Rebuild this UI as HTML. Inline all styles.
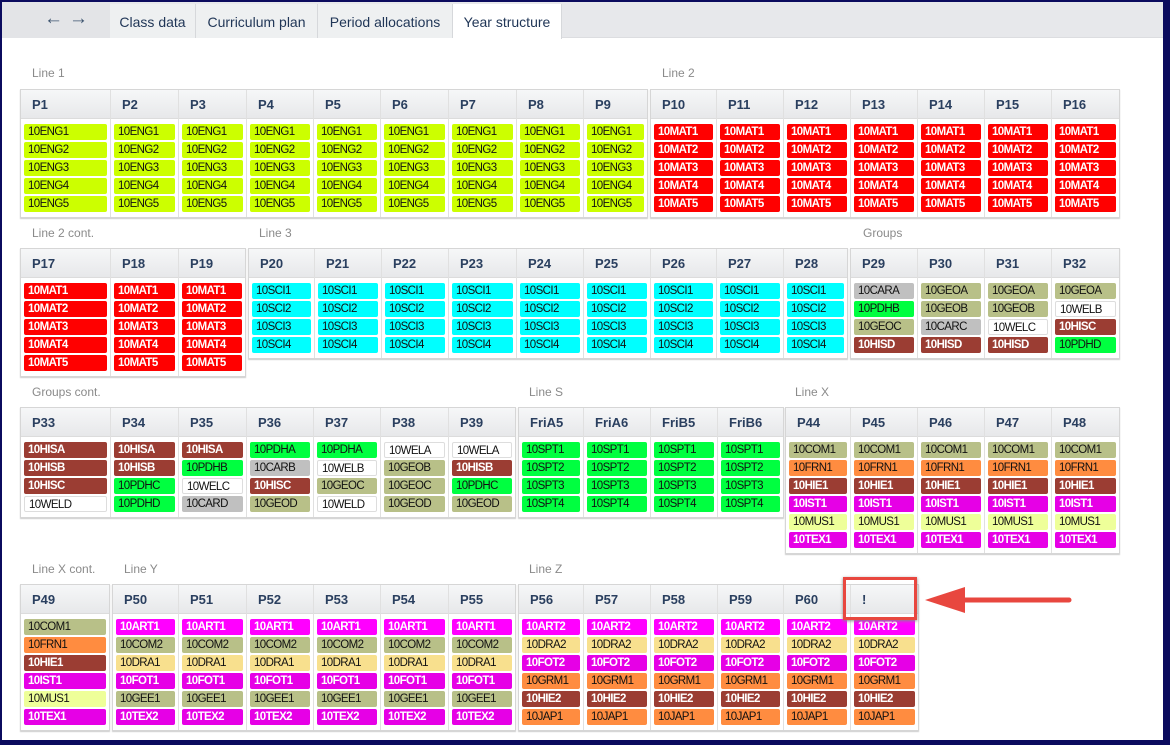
<!DOCTYPE html>
<html><head><meta charset="utf-8"><style>
*{box-sizing:border-box;margin:0;padding:0}
body{width:1170px;height:745px;background:#0b0b5e;position:relative;overflow:hidden;font-family:"Liberation Sans",sans-serif}
#pg{position:absolute;left:2px;top:2px;width:1161px;height:738px;background:#fff}
#tb{position:absolute;left:0;top:0;width:1161px;height:36px;background:#e7e8eb;border-bottom:1px solid #dcdde0}
.nav{position:absolute;left:0;top:0;width:108px;height:36px;background:#e3e4e7;color:#3e5570;font-size:19px;line-height:34px;padding-left:42px;letter-spacing:6px}
.tab{position:absolute;top:2px;height:34px;line-height:36px;font-size:14px;color:#1f3556;background:#eef0f1;border-right:1px solid #d6d8db;text-align:center}
.tab.on{background:#fff;height:35px}
.lb{position:absolute;font-size:12px;color:#8a8a8a}
.g{position:absolute;display:flex;border:1px solid #d6d6d6;box-shadow:0 1px 1px #ccc;background:#fff}
.c{border-right:1px solid #e0e0e0;padding-bottom:3px}
.c:last-child{border-right:none}
.h{height:29px;line-height:29px;background:linear-gradient(#f6f7f8,#e7e8ea);border-bottom:1px solid #dcdcdc;padding-left:11px;font-size:13px;color:#2a3f5f;font-weight:bold;margin-bottom:5px}
.c i{display:block;font-style:normal;height:16px;line-height:16px;margin:0 3px 2px 3px;border-radius:2px;padding-left:4px;font-size:11.5px;letter-spacing:-0.6px;color:#111;white-space:nowrap;overflow:hidden}
.e{background:#ccff00}.m{background:#ff0000;color:#fff!important;font-weight:bold}.s{background:#00ffff}
.q{background:#c0c0c0}.n{background:#00ff40}.o{background:#b8c088}.b{background:#9b3d33;color:#fff!important;font-weight:bold}
.w{background:#fff;border:1px solid #ddd}.f{background:#ff8c40}.p{background:#ff00ff;color:#fff!important;font-weight:bold}
.p2{background:#e600e6;color:#fff!important;font-weight:bold}.y{background:#eeff99}.d{background:#f8e08e}
</style></head><body><div id="pg">
<div id="tb"><div class="nav">←→</div>
<div class="tab" style="left:108px;width:86px">Class data</div>
<div class="tab" style="left:194px;width:122px">Curriculum plan</div>
<div class="tab" style="left:316px;width:135px">Period allocations</div>
<div class="tab on" style="left:451px;width:109px">Year structure</div></div>

<div class="lb" style="left:30px;top:64px">Line 1</div>
<div class="lb" style="left:660px;top:64px">Line 2</div>
<div class="g" style="left:18px;top:87px">
<div class="c" style="width:90px"><div class="h">P1</div><i class="e">10ENG1</i><i class="e">10ENG2</i><i class="e">10ENG3</i><i class="e">10ENG4</i><i class="e">10ENG5</i></div>
<div class="c" style="width:68px"><div class="h">P2</div><i class="e">10ENG1</i><i class="e">10ENG2</i><i class="e">10ENG3</i><i class="e">10ENG4</i><i class="e">10ENG5</i></div>
<div class="c" style="width:68px"><div class="h">P3</div><i class="e">10ENG1</i><i class="e">10ENG2</i><i class="e">10ENG3</i><i class="e">10ENG4</i><i class="e">10ENG5</i></div>
<div class="c" style="width:67px"><div class="h">P4</div><i class="e">10ENG1</i><i class="e">10ENG2</i><i class="e">10ENG3</i><i class="e">10ENG4</i><i class="e">10ENG5</i></div>
<div class="c" style="width:67px"><div class="h">P5</div><i class="e">10ENG1</i><i class="e">10ENG2</i><i class="e">10ENG3</i><i class="e">10ENG4</i><i class="e">10ENG5</i></div>
<div class="c" style="width:68px"><div class="h">P6</div><i class="e">10ENG1</i><i class="e">10ENG2</i><i class="e">10ENG3</i><i class="e">10ENG4</i><i class="e">10ENG5</i></div>
<div class="c" style="width:68px"><div class="h">P7</div><i class="e">10ENG1</i><i class="e">10ENG2</i><i class="e">10ENG3</i><i class="e">10ENG4</i><i class="e">10ENG5</i></div>
<div class="c" style="width:67px"><div class="h">P8</div><i class="e">10ENG1</i><i class="e">10ENG2</i><i class="e">10ENG3</i><i class="e">10ENG4</i><i class="e">10ENG5</i></div>
<div class="c" style="width:63px"><div class="h">P9</div><i class="e">10ENG1</i><i class="e">10ENG2</i><i class="e">10ENG3</i><i class="e">10ENG4</i><i class="e">10ENG5</i></div>
</div>
<div class="g" style="left:648px;top:87px">
<div class="c" style="width:66px"><div class="h">P10</div><i class="m">10MAT1</i><i class="m">10MAT2</i><i class="m">10MAT3</i><i class="m">10MAT4</i><i class="m">10MAT5</i></div>
<div class="c" style="width:67px"><div class="h">P11</div><i class="m">10MAT1</i><i class="m">10MAT2</i><i class="m">10MAT3</i><i class="m">10MAT4</i><i class="m">10MAT5</i></div>
<div class="c" style="width:67px"><div class="h">P12</div><i class="m">10MAT1</i><i class="m">10MAT2</i><i class="m">10MAT3</i><i class="m">10MAT4</i><i class="m">10MAT5</i></div>
<div class="c" style="width:67px"><div class="h">P13</div><i class="m">10MAT1</i><i class="m">10MAT2</i><i class="m">10MAT3</i><i class="m">10MAT4</i><i class="m">10MAT5</i></div>
<div class="c" style="width:67px"><div class="h">P14</div><i class="m">10MAT1</i><i class="m">10MAT2</i><i class="m">10MAT3</i><i class="m">10MAT4</i><i class="m">10MAT5</i></div>
<div class="c" style="width:67px"><div class="h">P15</div><i class="m">10MAT1</i><i class="m">10MAT2</i><i class="m">10MAT3</i><i class="m">10MAT4</i><i class="m">10MAT5</i></div>
<div class="c" style="width:67px"><div class="h">P16</div><i class="m">10MAT1</i><i class="m">10MAT2</i><i class="m">10MAT3</i><i class="m">10MAT4</i><i class="m">10MAT5</i></div>
</div>

<div class="lb" style="left:30px;top:224px">Line 2 cont.</div>
<div class="lb" style="left:257px;top:224px">Line 3</div>
<div class="lb" style="left:861px;top:224px">Groups</div>
<div class="g" style="left:18px;top:246px">
<div class="c" style="width:90px"><div class="h">P17</div><i class="m">10MAT1</i><i class="m">10MAT2</i><i class="m">10MAT3</i><i class="m">10MAT4</i><i class="m">10MAT5</i></div>
<div class="c" style="width:68px"><div class="h">P18</div><i class="m">10MAT1</i><i class="m">10MAT2</i><i class="m">10MAT3</i><i class="m">10MAT4</i><i class="m">10MAT5</i></div>
<div class="c" style="width:66px"><div class="h">P19</div><i class="m">10MAT1</i><i class="m">10MAT2</i><i class="m">10MAT3</i><i class="m">10MAT4</i><i class="m">10MAT5</i></div>
</div>
<div class="g" style="left:246px;top:246px">
<div class="c" style="width:66px"><div class="h">P20</div><i class="s">10SCI1</i><i class="s">10SCI2</i><i class="s">10SCI3</i><i class="s">10SCI4</i></div>
<div class="c" style="width:67px"><div class="h">P21</div><i class="s">10SCI1</i><i class="s">10SCI2</i><i class="s">10SCI3</i><i class="s">10SCI4</i></div>
<div class="c" style="width:67px"><div class="h">P22</div><i class="s">10SCI1</i><i class="s">10SCI2</i><i class="s">10SCI3</i><i class="s">10SCI4</i></div>
<div class="c" style="width:68px"><div class="h">P23</div><i class="s">10SCI1</i><i class="s">10SCI2</i><i class="s">10SCI3</i><i class="s">10SCI4</i></div>
<div class="c" style="width:67px"><div class="h">P24</div><i class="s">10SCI1</i><i class="s">10SCI2</i><i class="s">10SCI3</i><i class="s">10SCI4</i></div>
<div class="c" style="width:67px"><div class="h">P25</div><i class="s">10SCI1</i><i class="s">10SCI2</i><i class="s">10SCI3</i><i class="s">10SCI4</i></div>
<div class="c" style="width:66px"><div class="h">P26</div><i class="s">10SCI1</i><i class="s">10SCI2</i><i class="s">10SCI3</i><i class="s">10SCI4</i></div>
<div class="c" style="width:67px"><div class="h">P27</div><i class="s">10SCI1</i><i class="s">10SCI2</i><i class="s">10SCI3</i><i class="s">10SCI4</i></div>
<div class="c" style="width:63px"><div class="h">P28</div><i class="s">10SCI1</i><i class="s">10SCI2</i><i class="s">10SCI3</i><i class="s">10SCI4</i></div>
</div>
<div class="g" style="left:848px;top:246px">
<div class="c" style="width:67px"><div class="h">P29</div><i class="q">10CARA</i><i class="n">10PDHB</i><i class="o">10GEOC</i><i class="b">10HISD</i></div>
<div class="c" style="width:67px"><div class="h">P30</div><i class="o">10GEOA</i><i class="o">10GEOB</i><i class="q">10CARC</i><i class="b">10HISD</i></div>
<div class="c" style="width:67px"><div class="h">P31</div><i class="o">10GEOA</i><i class="o">10GEOB</i><i class="w">10WELC</i><i class="b">10HISD</i></div>
<div class="c" style="width:67px"><div class="h">P32</div><i class="o">10GEOA</i><i class="w">10WELB</i><i class="b">10HISC</i><i class="n">10PDHD</i></div>
</div>

<div class="lb" style="left:30px;top:383px">Groups cont.</div>
<div class="lb" style="left:527px;top:383px">Line S</div>
<div class="lb" style="left:793px;top:383px">Line X</div>
<div class="g" style="left:18px;top:405px">
<div class="c" style="width:90px"><div class="h">P33</div><i class="b">10HISA</i><i class="b">10HISB</i><i class="b">10HISC</i><i class="w">10WELD</i></div>
<div class="c" style="width:68px"><div class="h">P34</div><i class="b">10HISA</i><i class="b">10HISB</i><i class="n">10PDHC</i><i class="n">10PDHD</i></div>
<div class="c" style="width:68px"><div class="h">P35</div><i class="b">10HISA</i><i class="n">10PDHB</i><i class="w">10WELC</i><i class="q">10CARD</i></div>
<div class="c" style="width:67px"><div class="h">P36</div><i class="n">10PDHA</i><i class="q">10CARB</i><i class="b">10HISC</i><i class="o">10GEOD</i></div>
<div class="c" style="width:67px"><div class="h">P37</div><i class="n">10PDHA</i><i class="w">10WELB</i><i class="o">10GEOC</i><i class="w">10WELD</i></div>
<div class="c" style="width:68px"><div class="h">P38</div><i class="w">10WELA</i><i class="o">10GEOB</i><i class="o">10GEOC</i><i class="o">10GEOD</i></div>
<div class="c" style="width:66px"><div class="h">P39</div><i class="w">10WELA</i><i class="b">10HISB</i><i class="n">10PDHC</i><i class="o">10GEOD</i></div>
</div>
<div class="g" style="left:516px;top:405px">
<div class="c" style="width:65px"><div class="h">FriA5</div><i class="n">10SPT1</i><i class="n">10SPT2</i><i class="n">10SPT3</i><i class="n">10SPT4</i></div>
<div class="c" style="width:67px"><div class="h">FriA6</div><i class="n">10SPT1</i><i class="n">10SPT2</i><i class="n">10SPT3</i><i class="n">10SPT4</i></div>
<div class="c" style="width:67px"><div class="h">FriB5</div><i class="n">10SPT1</i><i class="n">10SPT2</i><i class="n">10SPT3</i><i class="n">10SPT4</i></div>
<div class="c" style="width:65px"><div class="h">FriB6</div><i class="n">10SPT1</i><i class="n">10SPT2</i><i class="n">10SPT3</i><i class="n">10SPT4</i></div>
</div>
<div class="g" style="left:783px;top:405px">
<div class="c" style="width:65px"><div class="h">P44</div><i class="o">10COM1</i><i class="f">10FRN1</i><i class="b">10HIE1</i><i class="p2">10IST1</i><i class="y">10MUS1</i><i class="p2">10TEX1</i></div>
<div class="c" style="width:67px"><div class="h">P45</div><i class="o">10COM1</i><i class="f">10FRN1</i><i class="b">10HIE1</i><i class="p2">10IST1</i><i class="y">10MUS1</i><i class="p2">10TEX1</i></div>
<div class="c" style="width:67px"><div class="h">P46</div><i class="o">10COM1</i><i class="f">10FRN1</i><i class="b">10HIE1</i><i class="p2">10IST1</i><i class="y">10MUS1</i><i class="p2">10TEX1</i></div>
<div class="c" style="width:67px"><div class="h">P47</div><i class="o">10COM1</i><i class="f">10FRN1</i><i class="b">10HIE1</i><i class="p2">10IST1</i><i class="y">10MUS1</i><i class="p2">10TEX1</i></div>
<div class="c" style="width:67px"><div class="h">P48</div><i class="o">10COM1</i><i class="f">10FRN1</i><i class="b">10HIE1</i><i class="p2">10IST1</i><i class="y">10MUS1</i><i class="p2">10TEX1</i></div>
</div>

<div class="lb" style="left:30px;top:560px">Line X cont.</div>
<div class="lb" style="left:122px;top:560px">Line Y</div>
<div class="lb" style="left:527px;top:560px">Line Z</div>
<div class="g" style="left:18px;top:582px">
<div class="c" style="width:88px"><div class="h">P49</div><i class="o">10COM1</i><i class="f">10FRN1</i><i class="b">10HIE1</i><i class="p2">10IST1</i><i class="y">10MUS1</i><i class="p2">10TEX1</i></div>
</div>
<div class="g" style="left:110px;top:582px">
<div class="c" style="width:66px"><div class="h">P50</div><i class="p">10ART1</i><i class="o">10COM2</i><i class="d">10DRA1</i><i class="p2">10FOT1</i><i class="o">10GEE1</i><i class="p2">10TEX2</i></div>
<div class="c" style="width:68px"><div class="h">P51</div><i class="p">10ART1</i><i class="o">10COM2</i><i class="d">10DRA1</i><i class="p2">10FOT1</i><i class="o">10GEE1</i><i class="p2">10TEX2</i></div>
<div class="c" style="width:67px"><div class="h">P52</div><i class="p">10ART1</i><i class="o">10COM2</i><i class="d">10DRA1</i><i class="p2">10FOT1</i><i class="o">10GEE1</i><i class="p2">10TEX2</i></div>
<div class="c" style="width:67px"><div class="h">P53</div><i class="p">10ART1</i><i class="o">10COM2</i><i class="d">10DRA1</i><i class="p2">10FOT1</i><i class="o">10GEE1</i><i class="p2">10TEX2</i></div>
<div class="c" style="width:68px"><div class="h">P54</div><i class="p">10ART1</i><i class="o">10COM2</i><i class="d">10DRA1</i><i class="p2">10FOT1</i><i class="o">10GEE1</i><i class="p2">10TEX2</i></div>
<div class="c" style="width:66px"><div class="h">P55</div><i class="p">10ART1</i><i class="o">10COM2</i><i class="d">10DRA1</i><i class="p2">10FOT1</i><i class="o">10GEE1</i><i class="p2">10TEX2</i></div>
</div>
<div class="g" style="left:516px;top:582px">
<div class="c" style="width:65px"><div class="h">P56</div><i class="p">10ART2</i><i class="d">10DRA2</i><i class="p2">10FOT2</i><i class="f">10GRM1</i><i class="b">10HIE2</i><i class="f">10JAP1</i></div>
<div class="c" style="width:67px"><div class="h">P57</div><i class="p">10ART2</i><i class="d">10DRA2</i><i class="p2">10FOT2</i><i class="f">10GRM1</i><i class="b">10HIE2</i><i class="f">10JAP1</i></div>
<div class="c" style="width:67px"><div class="h">P58</div><i class="p">10ART2</i><i class="d">10DRA2</i><i class="p2">10FOT2</i><i class="f">10GRM1</i><i class="b">10HIE2</i><i class="f">10JAP1</i></div>
<div class="c" style="width:66px"><div class="h">P59</div><i class="p">10ART2</i><i class="d">10DRA2</i><i class="p2">10FOT2</i><i class="f">10GRM1</i><i class="b">10HIE2</i><i class="f">10JAP1</i></div>
<div class="c" style="width:67px"><div class="h">P60</div><i class="p">10ART2</i><i class="d">10DRA2</i><i class="p2">10FOT2</i><i class="f">10GRM1</i><i class="b">10HIE2</i><i class="f">10JAP1</i></div>
<div class="c" style="width:67px"><div class="h">!</div><i class="p">10ART2</i><i class="d">10DRA2</i><i class="p2">10FOT2</i><i class="f">10GRM1</i><i class="b">10HIE2</i><i class="f">10JAP1</i></div>
</div>
<div style="position:absolute;left:841px;top:575px;width:74px;height:43px;border:3px solid #e8473f;box-shadow:0 1px 3px #888"></div>
<svg style="position:absolute;left:915px;top:580px" width="160" height="40">
<line x1="40" y1="18" x2="152" y2="18" stroke="#e8473f" stroke-width="5" stroke-linecap="round"/>
<polygon points="8,18 48,5 48,31" fill="#e8473f"/>
</svg>
</div></body></html>
